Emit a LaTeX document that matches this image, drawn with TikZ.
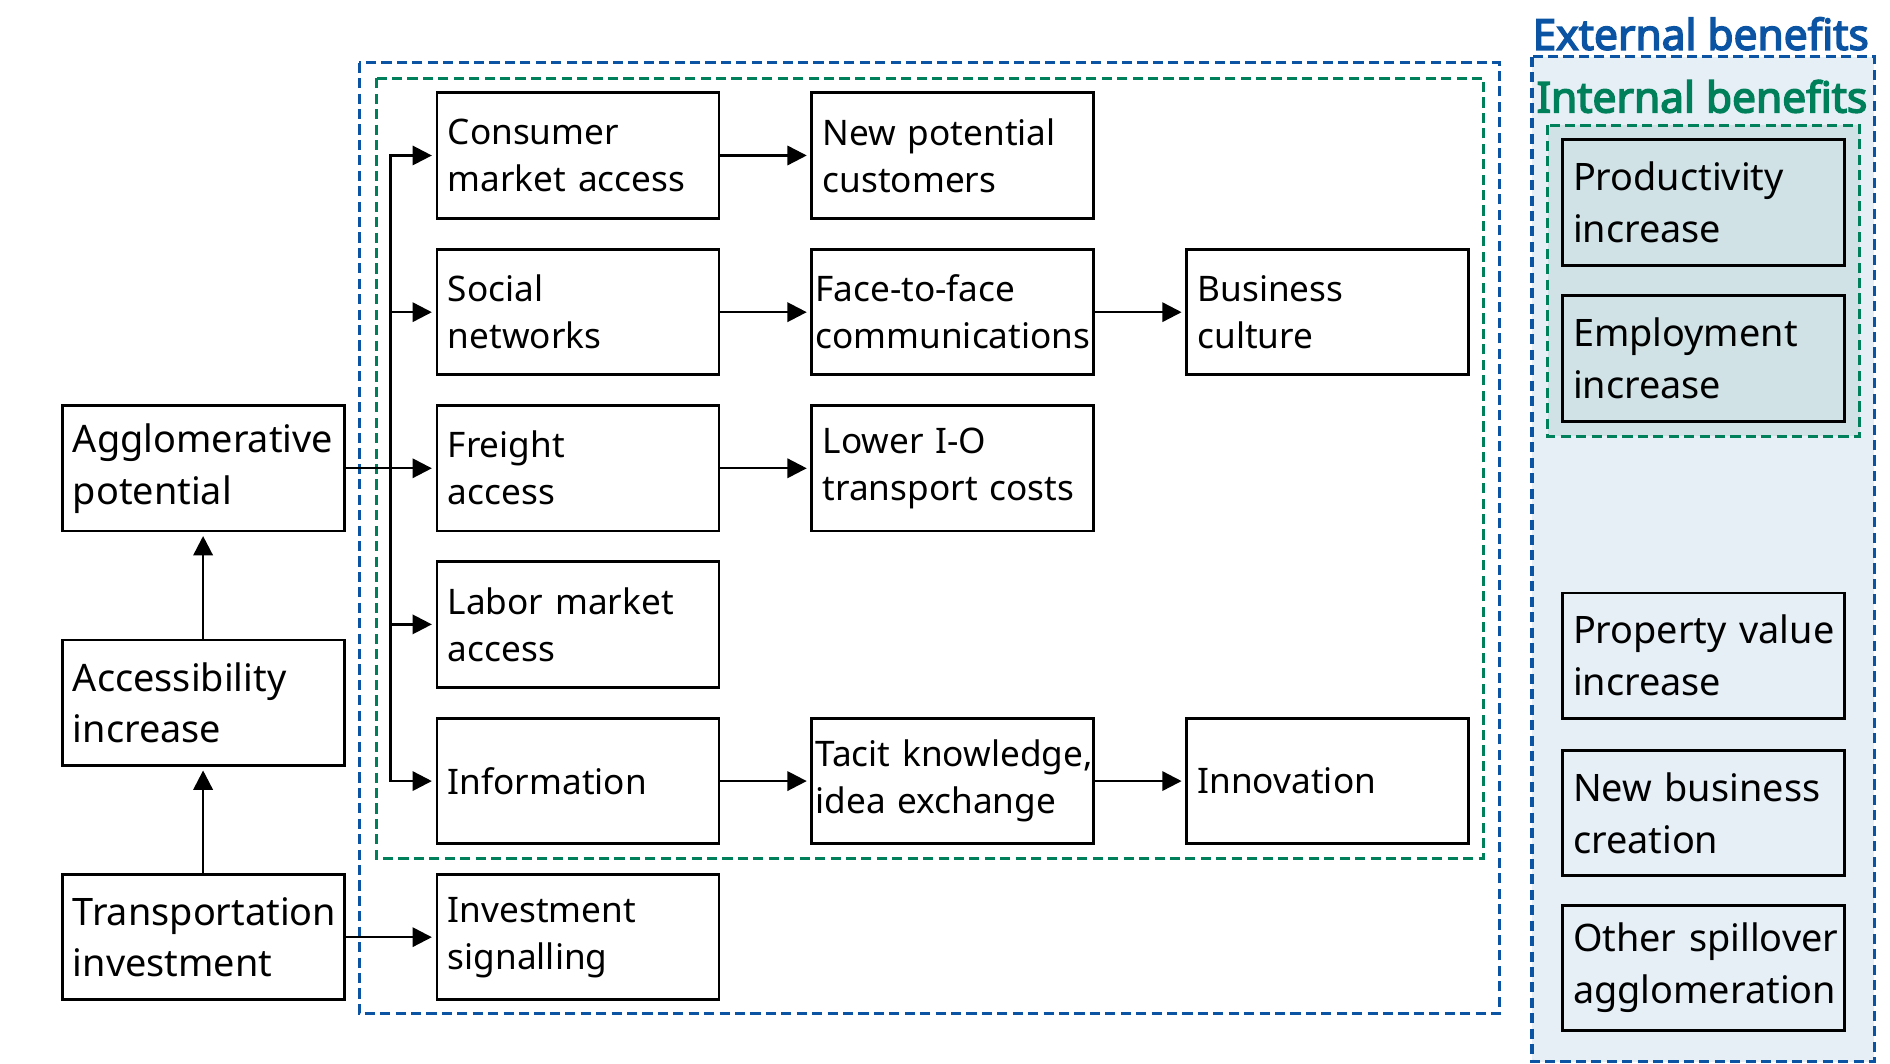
\documentclass[tikz,border=0pt]{standalone}
\usepackage{fontspec}
\setmainfont{Noto Sans}
\newfontfamily\headfont{Noto Sans}[FakeBold=3.5]
\usetikzlibrary{arrows.meta}
\definecolor{extblue}{RGB}{11,84,164}
\definecolor{intgreen}{RGB}{0,128,90}
\definecolor{extfill}{RGB}{230,238,246}
\definecolor{intfill}{RGB}{208,226,230}
\begin{document}
\begin{tikzpicture}[x=0.5pt,y=-0.5pt,
  box/.style={draw, line width=1.2pt, inner xsep=4.5pt, inner ysep=0pt,
    text width=108pt, minimum height=52pt, align=left},
  midbox/.style={box, font=\fontsize{14.6pt}{19.5pt}\selectfont},
  bigbox/.style={box, font=\fontsize{15.7pt}{21.5pt}\selectfont},
  tightbox/.style={midbox, inner xsep=1.5pt, text width=114pt},
  arr/.style={line width=1pt, -{Triangle[length=8pt,width=8pt]}, shorten >=1.5pt},
  extdash/.style={draw=extblue, line width=1.3pt, dash pattern=on 4.2pt off 2.2pt},
  intdash/.style={draw=intgreen, line width=1.3pt, dash pattern=on 4.2pt off 2.2pt},
  head/.style={font=\headfont\fontsize{17.6pt}{19pt}\selectfont, inner sep=0pt}
]
\useasboundingbox (0,0) rectangle (1568,882);
% dashed frames
\draw[extdash] (298,52) rectangle (1244,841);
\draw[intdash] (312,65) rectangle (1231,712);
\fill[extfill] (1271,47) rectangle (1555,881);
\draw[extdash] (1271,47) rectangle (1555,881);
\fill[intfill] (1284,104) rectangle (1543,362);
\draw[intdash] (1284,104) rectangle (1543,362);
\node[head, text=extblue] (exth) at (1411,28) {External benefits};
\node[head, text=intgreen] (inth) at (1412,80) {Internal benefits};

% left column
\node[bigbox] (agg) at (168.5,388.5) {Agglomerative\\potential};
\node[bigbox] (acc) at (168.5,583) {Accessibility\\increase};
\node[bigbox] (tra) at (168.5,777.5) {\mbox{Transportation}\\investment};

% middle column 1
\node[midbox] (con) at (479.5,129) {Consumer\\\mbox{market access}};
\node[midbox] (soc) at (479.5,259) {Social\\networks};
\node[midbox] (fre) at (479.5,388.5) {Freight\\access};
\node[midbox] (lab) at (479.5,518) {\mbox{Labor market}\\access};
\node[midbox] (inf) at (479.5,648) {Information};
\node[midbox] (sig) at (479.5,777.5) {Investment\\signalling};

% middle column 2
\node[midbox] (npc) at (790.5,129) {\mbox{New potential}\\customers};
\node[tightbox] (ftf) at (790.5,259) {Face-to-face\\\mbox{communications}};
\node[midbox] (low) at (790.5,388.5) {\mbox{Lower I-O}\\\mbox{transport costs}};
\node[tightbox] (tac) at (790.5,648) {\mbox{Tacit knowledge,}\\\mbox{idea exchange}};

% column 3
\node[midbox] (bus) at (1101.5,259) {Business\\culture};
\node[midbox] (inn) at (1101.5,648) {Innovation};

% right column
\node[bigbox] (pro) at (1413,168) {Productivity\\increase};
\node[bigbox] (emp) at (1413,297.5) {Employment\\increase};
\node[bigbox] (prv) at (1413,544) {\mbox{Property value}\\increase};
\node[bigbox] (nbc) at (1413,674.5) {\mbox{New business}\\creation};
\node[bigbox] (oth) at (1413,803) {\mbox{Other spillover}\\\mbox{agglomeration}};

% connectors
\coordinate (tx) at (324,0);
\draw[arr] (tra.north) -- (acc.south);
\draw[arr] (acc.north) -- (agg.south);
\draw[arr] (agg.east) -- (fre.west);
\draw[arr] (tx |- fre.west) |- (con.west);
\draw[arr] (tx |- fre.west) |- (soc.west);
\draw[arr] (tx |- fre.west) |- (lab.west);
\draw[arr] (tx |- fre.west) |- (inf.west);
\draw[arr] (tra.east) -- (sig.west);
\draw[arr] (con.east) -- (npc.west);
\draw[arr] (soc.east) -- (ftf.west);
\draw[arr] (fre.east) -- (low.west);
\draw[arr] (inf.east) -- (tac.west);
\draw[arr] (ftf.east) -- (bus.west);
\draw[arr] (tac.east) -- (inn.west);
\end{tikzpicture}
\end{document}
